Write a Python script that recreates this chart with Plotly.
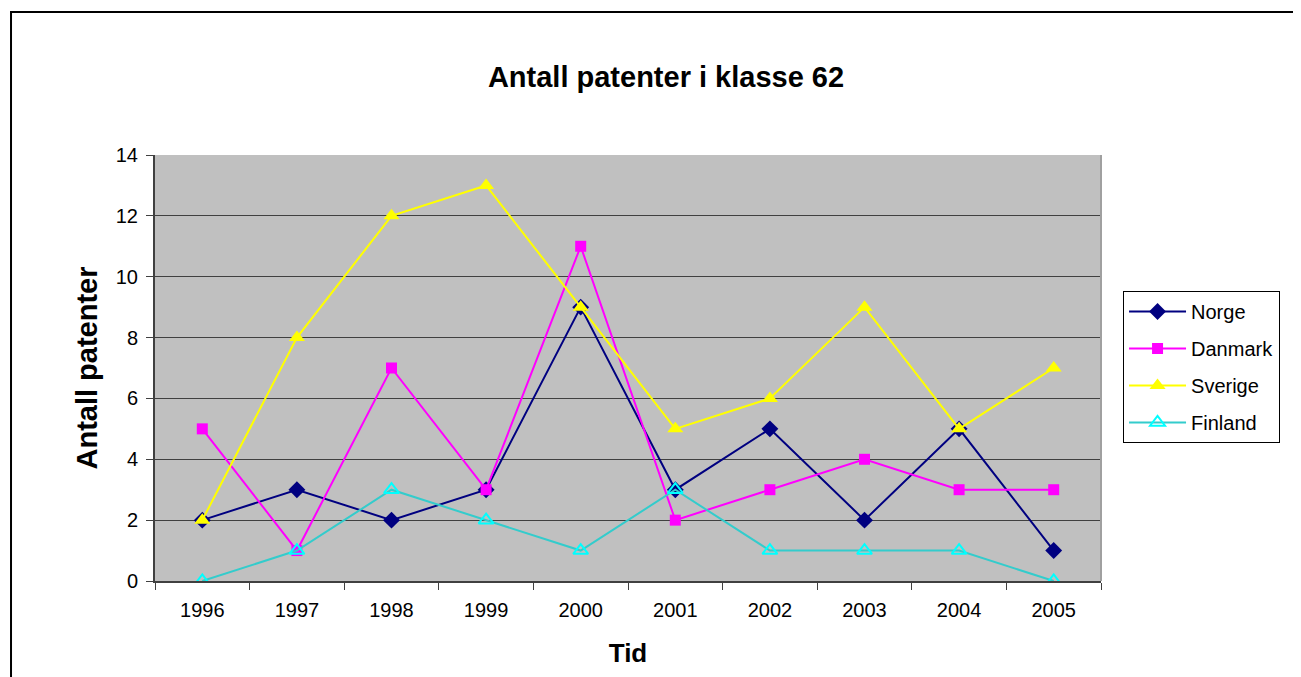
import plotly.graph_objects as go

years = ['1996', '1997', '1998', '1999', '2000', '2001', '2002', '2003', '2004', '2005']
norge = [2, 3, 2, 3, 9, 3, 5, 2, 5, 1]
danmark = [5, 1, 7, 3, 11, 2, 3, 4, 3, 3]
sverige = [2, 8, 12, 13, 9, 5, 6, 9, 5, 7]
finland = [0, 1, 3, 2, 1, 3, 1, 1, 1, 0]

font = 'Liberation Sans, Arial, sans-serif'

fig = go.Figure()

fig.add_trace(go.Scatter(x=years, y=norge, name='Norge', mode='lines+markers', legendgroup='a',
                         line=dict(color='#000080', width=2),
                         marker=dict(symbol='diamond', size=13, color='#000080')))
fig.add_trace(go.Scatter(x=years, y=danmark, name='Danmark', mode='lines+markers', legendgroup='b',
                         line=dict(color='#FF00FF', width=2),
                         marker=dict(symbol='square', size=11, color='#FF00FF')))
fig.add_trace(go.Scatter(x=years, y=sverige, name='Sverige', mode='lines+markers', legendgroup='c',
                         line=dict(color='#FFFF00', width=2),
                         marker=dict(symbol='triangle-up', size=14, color='#FFFF00')))
fig.add_trace(go.Scatter(x=years, y=finland, name='Finland', mode='lines+markers', legendgroup='d',
                         line=dict(color='#33CCCC', width=2),
                         marker=dict(symbol='triangle-up-open', size=13, color='#00FFFF',
                                     line=dict(width=2, color='#00FFFF'))))

# outer chart border (page body has an 8px margin, figure is shifted by it)
fig.add_shape(type='rect', xref='paper', yref='paper',
              x0=-0.1522, x1=1.2072, y0=-0.25, y1=1.3357,
              line=dict(color='black', width=2), layer='below')
# light right edge of plot area
fig.add_shape(type='line', xref='paper', yref='paper', x0=1, x1=1, y0=0, y1=1,
              line=dict(color='#A0A0A0', width=2))

fig.update_layout(
    width=1293, height=669,
    margin=dict(l=147, r=200, t=147, b=96),
    paper_bgcolor='white',
    plot_bgcolor='#C0C0C0',
    font=dict(family=font, size=20, color='black'),
    title=dict(text='<b>Antall patenter i klasse 62</b>', x=(666 - 8) / 1293, xanchor='center',
               y=1 - (77 - 8) / 669, yanchor='middle', font=dict(size=29, family=font)),
    showlegend=True,
    legend=dict(x=1.0233, y=0.6808, xanchor='left', yanchor='top',
                bordercolor='black', borderwidth=1, bgcolor='white',
                font=dict(size=20, family=font), tracegroupgap=8,
                itemwidth=57, traceorder='grouped'),
    xaxis=dict(type='category', range=[-0.5, 9.5], showgrid=False,
               ticks='outside', tickson='boundaries', ticklen=7, tickcolor='#404040',
               showline=True, linecolor='#404040', linewidth=2,
               tickfont=dict(size=20), ticklabelstandoff=10,
               title=dict(text='<b>Tid</b>', font=dict(size=26), standoff=24)),
    yaxis=dict(range=[0, 14], dtick=2, showgrid=True, gridcolor='#404040', gridwidth=1,
               ticks='outside', ticklen=7, tickcolor='#404040',
               showline=True, linecolor='#404040', linewidth=2, zeroline=False,
               tickfont=dict(size=20), ticklabelstandoff=4,
               title=dict(text='<b>Antall patenter</b>', font=dict(size=29), standoff=10)),
)

fig.write_html('out.html')
